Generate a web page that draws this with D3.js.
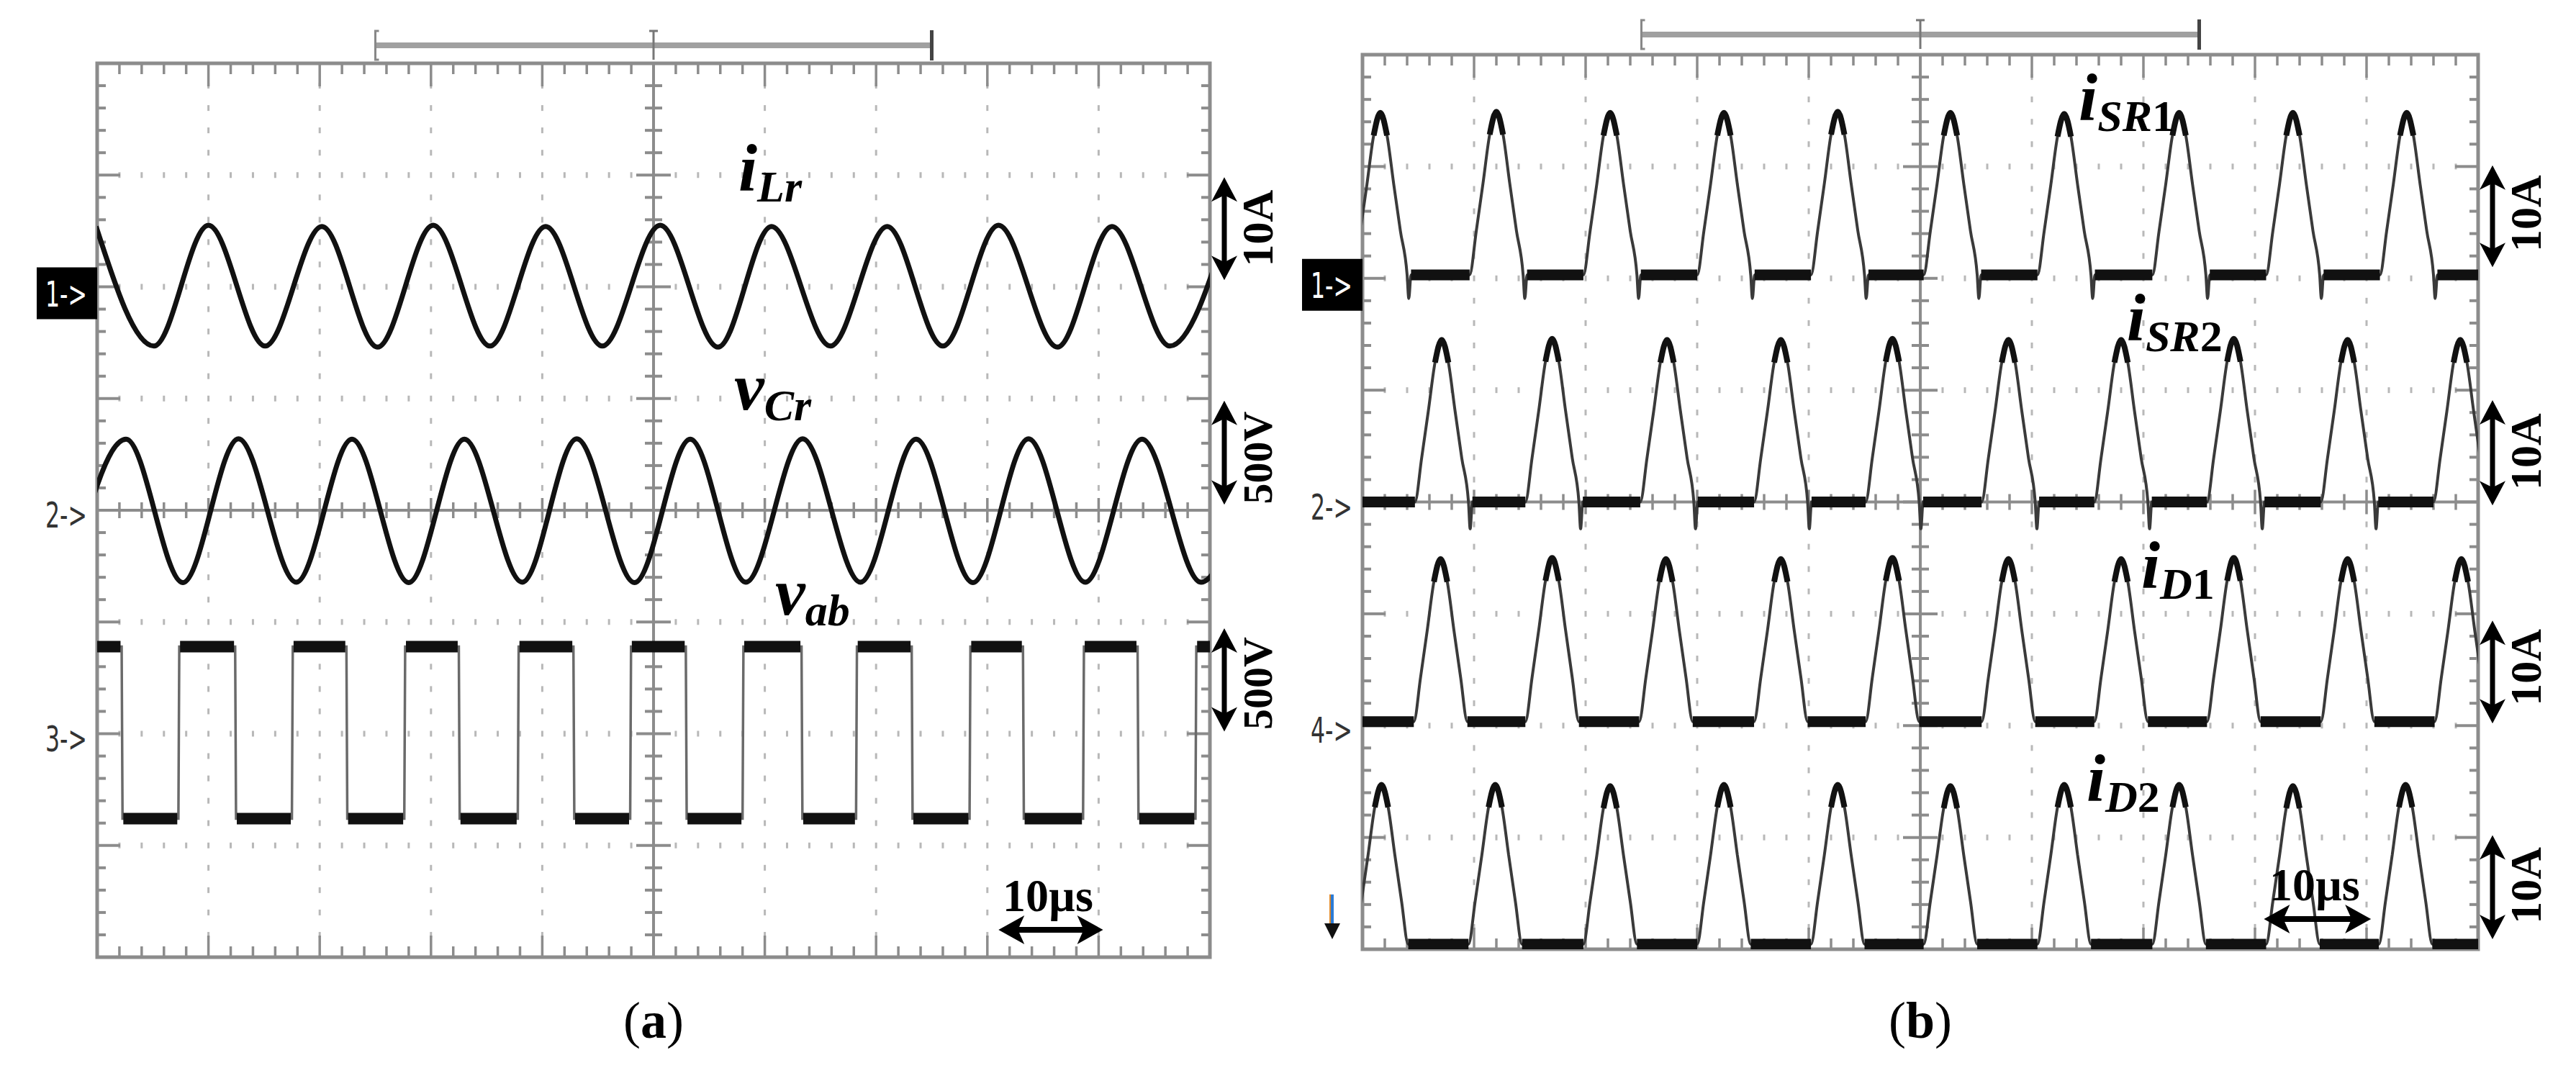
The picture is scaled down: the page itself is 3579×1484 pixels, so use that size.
<!DOCTYPE html>
<html>
<head>
<meta charset="utf-8">
<title>Resonant converter waveforms</title>
<script src="https://cdn.jsdelivr.net/npm/d3@7/dist/d3.min.js"></script>
<style>
body { margin: 0; background: #fff; }
.serif { font-family: "Liberation Serif", "Times New Roman", serif; font-weight: bold; }
.chan { font-family: "Liberation Sans Narrow", "DejaVu Sans Condensed", "DejaVu Sans", sans-serif; font-stretch: condensed; }
</style>
</head>
<body>
<script>
// ---- values (time in us, 10 us/div) ----

// (a) iLr : 10 A/div, extrema of the resonant current
var iLrT = [-0.1, 5.1, 10.0, 15.1, 20.2, 25.2, 30.2, 35.3, 40.3, 45.4, 50.6, 55.8, 60.6, 65.9, 71.0, 76.0, 81.0, 86.3, 91.2, 96.4, 101.6];
var iLrV = [5.4, -5.3, 5.5, -5.3, 5.4, -5.4, 5.5, -5.3, 5.4, -5.3, 5.5, -5.4, 5.4, -5.3, 5.4, -5.3, 5.5, -5.4, 5.4, -5.3, 5.4];

// (a) vCr : 500 V/div, extrema of the capacitor voltage
var vCrT = [-2.5, 2.6, 7.7, 12.7, 17.9, 22.9, 28.0, 33.0, 38.2, 43.1, 48.3, 53.3, 58.3, 63.4, 68.6, 73.6, 78.7, 83.7, 88.8, 93.9, 99.2, 104.2];
var vCrV = [-322, 318, -324, 320, -322, 318, -324, 318, -322, 320, -324, 318, -322, 320, -322, 318, -324, 320, -322, 318, -322, 318];

// (a) vab : 500 V/div, square wave starting high, switching instants
var vabEdges = [2.2, 7.3, 12.4, 17.5, 22.4, 27.6, 32.5, 37.8, 42.8, 47.9, 52.9, 58.0, 63.3, 68.2, 73.2, 78.4, 83.2, 88.6, 93.5, 98.7];
var vabHigh = 390;
var vabLow = -380;

// (b) rectifier currents, all 10 A/div; shape of one conduction pulse
var pulseDt  = [-2.4, -1.8, -1.2, -0.6, 0, 0.6, 1.2, 1.8, 2.4];
var pulseRel = [0, 0.27, 0.56, 0.86, 1, 0.86, 0.56, 0.27, 0];
var spikeDt  = [2.55, 2.75];

var sr1Peak = [1.6, 12.0, 22.2, 32.4, 42.6, 52.7, 62.9, 73.2, 83.4, 93.6];
var sr1Amp  = [14.8, 14.9, 14.8, 14.8, 14.9, 14.8, 14.7, 14.8, 14.8, 14.8];
var sr2Peak = [7.1, 17.0, 27.3, 37.5, 47.5, 57.9, 68.0, 78.1, 88.3, 98.4];
var sr2Amp  = [14.5, 14.6, 14.5, 14.5, 14.6, 14.5, 14.5, 14.6, 14.5, 14.5];
var d1Peak  = [7.0, 17.0, 27.2, 37.5, 47.5, 57.9, 68.0, 78.1, 88.3, 98.5];
var d1Amp   = [14.9, 15.0, 14.9, 14.9, 15.0, 14.9, 14.9, 15.0, 14.9, 14.9];
var d2Peak  = [1.7, 11.9, 22.2, 32.4, 42.6, 52.7, 62.9, 73.2, 83.4, 93.5];
var d2Amp   = [14.7, 14.7, 14.6, 14.7, 14.7, 14.6, 14.7, 14.7, 14.6, 14.7];

var chBase  = [0.3, 0, 0.35, 0.45];       // level of the idle (zero) band, A
var chSpike = [-1.8, -2.4, null, null];   // reverse-recovery dip, A

// ---- layout ----
var W = 3579, H = 1484;
var GRID = "#8c8c8c";

var svg = d3.select("body").append("svg")
    .attr("width", W)
    .attr("height", H)
    .style("display", "block");

// division scales for each screen (10 x 8 divisions)
var A = { x: d3.scaleLinear().domain([-5, 5]).range([135, 1681]),
          y: d3.scaleLinear().domain([-4, 4]).range([1330, 88]) };
var B = { x: d3.scaleLinear().domain([-5, 5]).range([1893, 3443]),
          y: d3.scaleLinear().domain([-4, 4]).range([1319, 76]) };
[A, B].forEach(function(p) {
    p.t = d3.scaleLinear().domain([0, 100]).range(p.x.range());
});

// channel scale: value -> px, given ref position (div) and units per div
function chScale(p, ref, perDiv) {
    return d3.scaleLinear().domain([(-4 - ref) * perDiv, (4 - ref) * perDiv]).range(p.y.range());
}

function isMajor(v) { return Math.abs(v - Math.round(v)) < 1e-9; }

function screen(g, p, barY) {
    var x = p.x, y = p.y;
    var xl = x(-5), xr = x(5), yt = y(4), yb = y(-4);
    var mx = d3.range(-25, 26).map(function(i) { return i / 5; });
    var my = d3.range(-20, 21).map(function(i) { return i / 5; });

    // dotted graticule
    var dots = [];
    [-4, -3, -2, -1, 1, 2, 3, 4].forEach(function(vx) {
        my.forEach(function(vy) { if (Math.abs(vy) < 4 && vy !== 0) dots.push([vx, vy]); });
    });
    [-3, -2, -1, 1, 2, 3].forEach(function(vy) {
        mx.forEach(function(vx) { if (Math.abs(vx) < 5 && !isMajor(vx)) dots.push([vx, vy]); });
    });
    g.append("g").selectAll("rect").data(dots).join("rect")
        .attr("x", function(d) { return x(d[0]) - 1.5; })
        .attr("y", function(d) { return y(d[1]) - 4; })
        .attr("width", 3).attr("height", 8)
        .attr("fill", "#b8b8b8");

    // centre axes with ticks
    g.append("line").attr("x1", x(0)).attr("x2", x(0)).attr("y1", yt).attr("y2", yb)
        .attr("stroke", GRID).attr("stroke-width", 4);
    g.append("line").attr("x1", xl).attr("x2", xr).attr("y1", y(0)).attr("y2", y(0))
        .attr("stroke", GRID).attr("stroke-width", 4);
    g.append("g").selectAll("line").data(my.filter(function(v) { return Math.abs(v) < 4; })).join("line")
        .attr("x1", function(v) { return x(0) - (isMajor(v) ? 24 : 12); })
        .attr("x2", function(v) { return x(0) + (isMajor(v) ? 24 : 12); })
        .attr("y1", y).attr("y2", y)
        .attr("stroke", GRID).attr("stroke-width", 4);
    g.append("g").selectAll("line").data(mx.filter(function(v) { return Math.abs(v) < 5; })).join("line")
        .attr("x1", x).attr("x2", x)
        .attr("y1", function(v) { return y(0) - (isMajor(v) ? 17 : 11); })
        .attr("y2", function(v) { return y(0) + (isMajor(v) ? 17 : 11); })
        .attr("stroke", GRID).attr("stroke-width", 3.5);

    // frame and edge ticks
    g.append("rect").attr("x", xl).attr("y", yt).attr("width", xr - xl).attr("height", yb - yt)
        .attr("fill", "none").attr("stroke", GRID).attr("stroke-width", 5);
    var hx = mx.filter(function(v) { return Math.abs(v) < 5; });
    var vy = my.filter(function(v) { return Math.abs(v) < 4; });
    g.append("g").selectAll("line").data(hx).join("line")
        .attr("x1", x).attr("x2", x).attr("y1", yt)
        .attr("y2", function(v) { return yt + (isMajor(v) ? 32 : 15); })
        .attr("stroke", GRID).attr("stroke-width", 3.5);
    g.append("g").selectAll("line").data(hx).join("line")
        .attr("x1", x).attr("x2", x).attr("y1", yb)
        .attr("y2", function(v) { return yb - (isMajor(v) ? 30 : 15); })
        .attr("stroke", GRID).attr("stroke-width", 3.5);
    g.append("g").selectAll("line").data(vy).join("line")
        .attr("y1", y).attr("y2", y).attr("x1", xl)
        .attr("x2", function(v) { return xl + (isMajor(v) ? 32 : 12); })
        .attr("stroke", GRID).attr("stroke-width", 4);
    g.append("g").selectAll("line").data(vy).join("line")
        .attr("y1", y).attr("y2", y).attr("x1", xr)
        .attr("x2", function(v) { return xr - (isMajor(v) ? 32 : 12); })
        .attr("stroke", GRID).attr("stroke-width", 4);

    // record-length bracket above the screen
    var b = g.append("g");
    b.append("line").attr("x1", x(-2.5)).attr("x2", x(2.5)).attr("y1", barY).attr("y2", barY)
        .attr("stroke", "#a0a0a0").attr("stroke-width", 8);
    b.append("path")
        .attr("d", "M" + (x(-2.5) + 5) + "," + (barY - 20) + "h-5v40h5")
        .attr("fill", "none").attr("stroke", "#888").attr("stroke-width", 3);
    b.append("path")
        .attr("d", "M" + (x(0) - 6) + "," + (barY - 20) + "h12M" + x(0) + "," + (barY - 20) + "v40")
        .attr("fill", "none").attr("stroke", "#777").attr("stroke-width", 3);
    b.append("line").attr("x1", x(2.5)).attr("x2", x(2.5)).attr("y1", barY - 21).attr("y2", barY + 21)
        .attr("stroke", "#444").attr("stroke-width", 5);
}

function clipFor(p, id) {
    svg.append("clipPath").attr("id", id).append("rect")
        .attr("x", p.x(-5)).attr("y", p.y(4))
        .attr("width", p.x(5) - p.x(-5)).attr("height", p.y(-4) - p.y(4));
}

function chMark(g, p, label, ref, boxed) {
    var xl = p.x(-5), yc = p.y(ref);
    if (boxed) {
        g.append("rect").attr("x", xl - 84).attr("y", yc + 9 - 36)
            .attr("width", 84).attr("height", 72).attr("fill", "#000");
    }
    g.append("text").attr("class", "chan")
        .attr("x", xl - 43).attr("y", boxed ? yc + 9 : yc + 6).attr("dy", "0.36em")
        .attr("text-anchor", "middle").attr("font-size", 50)
        .attr("fill", boxed ? "#fff" : "#333")
        .attr("textLength", 58).attr("lengthAdjust", "spacingAndGlyphs")
        .text(label);
}

function vArrow(g, x, y1, y2) {
    g.append("line").attr("x1", x).attr("x2", x).attr("y1", y1 + 20).attr("y2", y2 - 20)
        .attr("stroke", "#000").attr("stroke-width", 7);
    g.append("path").attr("d", "M" + x + "," + y1 + "L" + (x - 18) + "," + (y1 + 34) + "L" + x + "," + (y1 + 25) + "L" + (x + 18) + "," + (y1 + 34) + "Z");
    g.append("path").attr("d", "M" + x + "," + y2 + "L" + (x - 18) + "," + (y2 - 34) + "L" + x + "," + (y2 - 25) + "L" + (x + 18) + "," + (y2 - 34) + "Z");
}

function hArrow(g, x1, x2, y) {
    g.append("line").attr("x1", x1 + 20).attr("x2", x2 - 20).attr("y1", y).attr("y2", y)
        .attr("stroke", "#000").attr("stroke-width", 8);
    g.append("path").attr("d", "M" + x1 + "," + y + "L" + (x1 + 36) + "," + (y - 20) + "L" + (x1 + 27) + "," + y + "L" + (x1 + 36) + "," + (y + 20) + "Z");
    g.append("path").attr("d", "M" + x2 + "," + y + "L" + (x2 - 36) + "," + (y - 20) + "L" + (x2 - 27) + "," + y + "L" + (x2 - 36) + "," + (y + 20) + "Z");
}

function scaleNote(g, p, label, from, to, mid, size) {
    var xr = p.x(5);
    vArrow(g, xr + 20, p.y(from), p.y(to));
    g.append("text").attr("class", "serif")
        .attr("transform", "translate(" + (xr + 67) + "," + p.y(mid) + ") rotate(-90)")
        .attr("text-anchor", "middle").attr("dy", "0.33em")
        .attr("font-size", size).text(label);
}

function timeNote(g, p, x1, x2, yArrow, yText) {
    hArrow(g, p.x(x1), p.x(x2), p.y(yArrow));
    g.append("text").attr("class", "serif")
        .attr("x", p.x((x1 + x2) / 2) - 4).attr("y", p.y(yText))
        .attr("text-anchor", "middle").attr("font-size", 64).text("10\u00b5s");
}

function symbol(g, x, y, main, subIt, subUp) {
    var t = g.append("text").attr("class", "serif").attr("x", x).attr("y", y).attr("font-size", 94);
    t.append("tspan").attr("font-style", "italic").text(main);
    t.append("tspan").attr("font-style", "italic").attr("font-size", 62).attr("dy", 15).text(subIt);
    if (subUp) t.append("tspan").attr("font-size", 62).text(subUp);
}

function caption(g, x, letter) {
    var t = g.append("text").attr("class", "serif").attr("x", x).attr("y", 1442)
        .attr("text-anchor", "middle").attr("font-size", 72);
    t.append("tspan").attr("font-weight", "normal").text("(");
    t.append("tspan").text(letter);
    t.append("tspan").attr("font-weight", "normal").text(")");
}

var smooth = d3.line().curve(d3.curveMonotoneX);
var straight = d3.line();

// ================= panel (a) =================
var gA = svg.append("g");
screen(gA, A, 63);
clipFor(A, "clipA");
var trA = gA.append("g").attr("clip-path", "url(#clipA)");

var yiLr = chScale(A, 2, 10);
var yvCr = chScale(A, 0, 500);
var yvab = chScale(A, -2, 500);

trA.append("path")
    .attr("d", smooth.x(function(d) { return A.t(d[0]); }).y(function(d) { return yiLr(d[1]); })(d3.zip(iLrT, iLrV)))
    .attr("fill", "none").attr("stroke", "#111").attr("stroke-width", 7);
trA.append("path")
    .attr("d", smooth.x(function(d) { return A.t(d[0]); }).y(function(d) { return yvCr(d[1]); })(d3.zip(vCrT, vCrV)))
    .attr("fill", "none").attr("stroke", "#111").attr("stroke-width", 7);

// square wave: thin edges, heavy noisy plateaus
var vabPts = [[-3, vabHigh]], vabFlat = [], lvl = vabHigh, s0 = -3;
vabEdges.forEach(function(e) {
    vabPts.push([e, lvl]);
    vabFlat.push([s0, e - 0.1, lvl]);
    lvl = (lvl === vabHigh) ? vabLow : vabHigh;
    vabPts.push([e + 0.08, lvl]);
    s0 = e + 0.15;
});
vabPts.push([103, lvl]);
vabFlat.push([s0, 103, lvl]);

trA.append("path")
    .attr("d", straight.x(function(d) { return A.t(d[0]); }).y(function(d) { return yvab(d[1]); })(vabPts))
    .attr("fill", "none").attr("stroke", "#6a6a6a").attr("stroke-width", 3.5);
trA.append("g").selectAll("line").data(vabFlat).join("line")
    .attr("x1", function(d) { return A.t(d[0]); })
    .attr("x2", function(d) { return A.t(d[1]); })
    .attr("y1", function(d) { return yvab(d[2]); })
    .attr("y2", function(d) { return yvab(d[2]); })
    .attr("stroke", "#111").attr("stroke-width", 16);

chMark(gA, A, "1->", 2, true);
chMark(gA, A, "2->", 0, false);
chMark(gA, A, "3->", -2, false);

symbol(gA, A.x(0.763), A.y(2.86), "i", "Lr");
symbol(gA, A.x(0.724), A.y(0.90), "v", "Cr");
symbol(gA, A.x(1.093), A.y(-0.934), "v", "ab");

scaleNote(gA, A, "10A", 2.98, 2.06, 2.525, 62);
scaleNote(gA, A, "500V", 0.98, 0.05, 0.47, 58);
scaleNote(gA, A, "500V", -1.056, -1.98, -1.55, 58);
timeNote(gA, A, 3.10, 4.04, -3.755, -3.59);
caption(gA, A.x(0), "a");

// ================= panel (b) =================
var gB = svg.append("g");
screen(gB, B, 48);
clipFor(B, "clipB");
var trB = gB.append("g").attr("clip-path", "url(#clipB)");

function pulsePts(peaks, amps, base, spike) {
    var pts = [[-6, base]];
    peaks.forEach(function(p, i) {
        pulseDt.forEach(function(dt, k) { pts.push([p + dt, base + pulseRel[k] * (amps[i] - base)]); });
        if (spike != null) { pts.push([p + spikeDt[0], spike]); pts.push([p + spikeDt[1], base]); }
    });
    pts.push([106, base]);
    return pts;
}
function flatSegs(peaks, spike) {
    var segs = [], s = -6;
    peaks.forEach(function(p) {
        segs.push([s, p + pulseDt[0]]);
        s = p + (spike != null ? spikeDt[1] : pulseDt[pulseDt.length - 1]);
    });
    segs.push([s, 106]);
    return segs;
}

var chans = [
    { peaks: sr1Peak, amps: sr1Amp, ref: 2 },
    { peaks: sr2Peak, amps: sr2Amp, ref: 0 },
    { peaks: d1Peak,  amps: d1Amp,  ref: -2 },
    { peaks: d2Peak,  amps: d2Amp,  ref: -4 }
];
chans.forEach(function(c, i) {
    var yc = chScale(B, c.ref, 10);
    var base = chBase[i], spike = chSpike[i];
    var ln = d3.line().curve(d3.curveMonotoneX)
        .x(function(d) { return B.t(d[0]); }).y(function(d) { return yc(d[1]); });
    trB.append("path").attr("d", ln(pulsePts(c.peaks, c.amps, base, spike)))
        .attr("fill", "none").attr("stroke", "#3a3a3a").attr("stroke-width", 4);
    // darker rounded tops
    c.peaks.forEach(function(p, k) {
        var top = [3, 4, 5].map(function(j) { return [p + pulseDt[j], base + pulseRel[j] * (c.amps[k] - base)]; });
        trB.append("path").attr("d", ln(top))
            .attr("fill", "none").attr("stroke", "#111").attr("stroke-width", 8);
    });
    trB.append("g").selectAll("line").data(flatSegs(c.peaks, spike)).join("line")
        .attr("x1", function(d) { return B.t(d[0]); })
        .attr("x2", function(d) { return B.t(d[1]); })
        .attr("y1", yc(base)).attr("y2", yc(base))
        .attr("stroke", "#111").attr("stroke-width", 15);
});

chMark(gB, B, "1->", 2, true);
chMark(gB, B, "2->", 0, false);
chMark(gB, B, "4->", -2, false);

// off-screen reference marker for channel 3
var ax = B.x(-5) - 42, ay1 = B.y(-3.51), ay2 = B.y(-3.91);
gB.append("line").attr("x1", ax - 3).attr("x2", ax - 3).attr("y1", ay1).attr("y2", ay2 - 14)
    .attr("stroke", "#e0892a").attr("stroke-width", 2);
gB.append("line").attr("x1", ax).attr("x2", ax).attr("y1", ay1).attr("y2", ay2 - 14)
    .attr("stroke", "#2b7bd6").attr("stroke-width", 4);
gB.append("path").attr("d", "M" + ax + "," + ay2 + "L" + (ax - 11) + "," + (ay2 - 22) + "L" + (ax + 11) + "," + (ay2 - 22) + "Z")
    .attr("fill", "#111");

symbol(gB, B.x(1.42), B.y(3.417), "i", "SR", "1");
symbol(gB, B.x(1.85), B.y(1.448), "i", "SR", "2");
symbol(gB, B.x(1.98), B.y(-0.766), "i", "D", "1");
symbol(gB, B.x(1.49), B.y(-2.677), "i", "D", "2");

scaleNote(gB, B, "10A", 3.01, 2.10, 2.58, 62);
scaleNote(gB, B, "10A", 0.91, -0.03, 0.45, 62);
scaleNote(gB, B, "10A", -1.06, -1.98, -1.48, 62);
scaleNote(gB, B, "10A", -2.98, -3.91, -3.43, 62);
timeNote(gB, B, 3.08, 4.04, -3.73, -3.565);
caption(gB, B.x(0), "b");
</script>
</body>
</html>
